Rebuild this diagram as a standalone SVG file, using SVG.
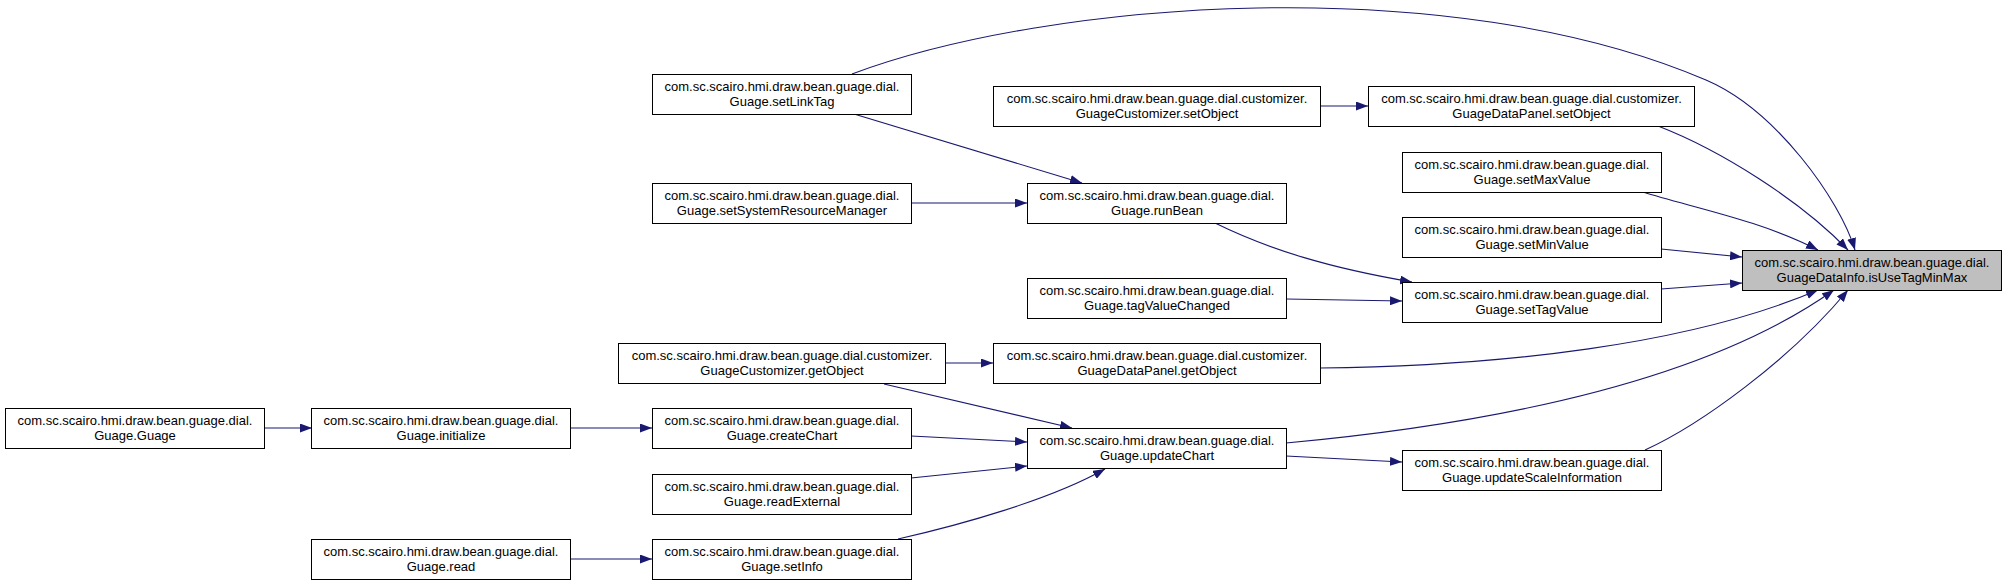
<svg xmlns="http://www.w3.org/2000/svg" width="2007" height="586" viewBox="0 0 2007 586">
<style>
.n rect{fill:#ffffff;stroke:#000000;stroke-width:1}
.n.hl rect{fill:#bfbfbf}
.n text{font-family:"Liberation Sans",Arial,sans-serif;font-size:13px;fill:#000000;text-anchor:middle}
.e path{fill:none;stroke:#191970;stroke-width:1.1;marker-end:url(#ah)}
</style>
<defs>
<marker id="ah" viewBox="0 0 12 9" refX="12" refY="4.5" markerWidth="12" markerHeight="9" markerUnits="userSpaceOnUse" orient="auto">
<path d="M0,0 L12,4.5 L0,9 z" fill="#191970" stroke="none"/>
</marker>
</defs>
<rect width="2007" height="586" fill="#ffffff"/>
<g id="edges" class="e">
<path d="M852,74 C1050,0 1450,-30 1706,80 C1776,110 1840,200 1855,250"/>
<path d="M1320,106 L1368,106"/>
<path d="M1658,126 C1720,150 1800,200 1848,250"/>
<path d="M1643,192 C1690,207 1760,220 1818,250"/>
<path d="M1661,249 L1742,257"/>
<path d="M1661,289 L1742,283"/>
<path d="M854,114 L1082,183"/>
<path d="M911,203 L1027,203"/>
<path d="M1215,223 C1270,250 1330,268 1412,282"/>
<path d="M1286,299 L1402,301"/>
<path d="M945,363 L993,363"/>
<path d="M1320,368 C1500,366 1690,345 1818,290"/>
<path d="M1286,443 C1480,425 1700,385 1834,290"/>
<path d="M1286,456 L1402,462"/>
<path d="M1645,450 C1700,425 1790,360 1848,290"/>
<path d="M264,428 L312,428"/>
<path d="M570,428 L652,428"/>
<path d="M570,559 L652,559"/>
<path d="M884,384 L1072,428"/>
<path d="M911,436 L1027,442"/>
<path d="M911,478 L1027,466"/>
<path d="M898,539 C960,525 1050,500 1105,469"/>
</g>
<g id="setLinkTag" class="n"><rect x="652.5" y="74.5" width="259" height="40"/><text x="782" y="91">com.sc.scairo.hmi.draw.bean.guage.dial.</text><text x="782" y="106">Guage.setLinkTag</text></g>
<g id="customizerSetObject" class="n"><rect x="993.5" y="86.5" width="327" height="40"/><text x="1157" y="103">com.sc.scairo.hmi.draw.bean.guage.dial.customizer.</text><text x="1157" y="118">GuageCustomizer.setObject</text></g>
<g id="dataPanelSetObject" class="n"><rect x="1368.5" y="86.5" width="326" height="40"/><text x="1531.5" y="103">com.sc.scairo.hmi.draw.bean.guage.dial.customizer.</text><text x="1531.5" y="118">GuageDataPanel.setObject</text></g>
<g id="setMaxValue" class="n"><rect x="1402.5" y="152.5" width="259" height="40"/><text x="1532" y="169">com.sc.scairo.hmi.draw.bean.guage.dial.</text><text x="1532" y="184">Guage.setMaxValue</text></g>
<g id="setSystemResourceManager" class="n"><rect x="652.5" y="183.5" width="259" height="40"/><text x="782" y="200">com.sc.scairo.hmi.draw.bean.guage.dial.</text><text x="782" y="215">Guage.setSystemResourceManager</text></g>
<g id="runBean" class="n"><rect x="1027.5" y="183.5" width="259" height="40"/><text x="1157" y="200">com.sc.scairo.hmi.draw.bean.guage.dial.</text><text x="1157" y="215">Guage.runBean</text></g>
<g id="setMinValue" class="n"><rect x="1402.5" y="217.5" width="259" height="40"/><text x="1532" y="234">com.sc.scairo.hmi.draw.bean.guage.dial.</text><text x="1532" y="249">Guage.setMinValue</text></g>
<g id="isUseTagMinMax" class="n hl"><rect x="1742.5" y="250.5" width="259" height="40"/><text x="1872" y="267">com.sc.scairo.hmi.draw.bean.guage.dial.</text><text x="1872" y="282">GuageDataInfo.isUseTagMinMax</text></g>
<g id="tagValueChanged" class="n"><rect x="1027.5" y="278.5" width="259" height="40"/><text x="1157" y="295">com.sc.scairo.hmi.draw.bean.guage.dial.</text><text x="1157" y="310">Guage.tagValueChanged</text></g>
<g id="setTagValue" class="n"><rect x="1402.5" y="282.5" width="259" height="40"/><text x="1532" y="299">com.sc.scairo.hmi.draw.bean.guage.dial.</text><text x="1532" y="314">Guage.setTagValue</text></g>
<g id="customizerGetObject" class="n"><rect x="618.5" y="343.5" width="327" height="40"/><text x="782" y="360">com.sc.scairo.hmi.draw.bean.guage.dial.customizer.</text><text x="782" y="375">GuageCustomizer.getObject</text></g>
<g id="dataPanelGetObject" class="n"><rect x="993.5" y="343.5" width="327" height="40"/><text x="1157" y="360">com.sc.scairo.hmi.draw.bean.guage.dial.customizer.</text><text x="1157" y="375">GuageDataPanel.getObject</text></g>
<g id="guageGuage" class="n"><rect x="5.5" y="408.5" width="259" height="40"/><text x="135" y="425">com.sc.scairo.hmi.draw.bean.guage.dial.</text><text x="135" y="440">Guage.Guage</text></g>
<g id="initialize" class="n"><rect x="311.5" y="408.5" width="259" height="40"/><text x="441" y="425">com.sc.scairo.hmi.draw.bean.guage.dial.</text><text x="441" y="440">Guage.initialize</text></g>
<g id="createChart" class="n"><rect x="652.5" y="408.5" width="259" height="40"/><text x="782" y="425">com.sc.scairo.hmi.draw.bean.guage.dial.</text><text x="782" y="440">Guage.createChart</text></g>
<g id="updateChart" class="n"><rect x="1027.5" y="428.5" width="259" height="40"/><text x="1157" y="445">com.sc.scairo.hmi.draw.bean.guage.dial.</text><text x="1157" y="460">Guage.updateChart</text></g>
<g id="updateScaleInformation" class="n"><rect x="1402.5" y="450.5" width="259" height="40"/><text x="1532" y="467">com.sc.scairo.hmi.draw.bean.guage.dial.</text><text x="1532" y="482">Guage.updateScaleInformation</text></g>
<g id="readExternal" class="n"><rect x="652.5" y="474.5" width="259" height="40"/><text x="782" y="491">com.sc.scairo.hmi.draw.bean.guage.dial.</text><text x="782" y="506">Guage.readExternal</text></g>
<g id="read" class="n"><rect x="311.5" y="539.5" width="259" height="40"/><text x="441" y="556">com.sc.scairo.hmi.draw.bean.guage.dial.</text><text x="441" y="571">Guage.read</text></g>
<g id="setInfo" class="n"><rect x="652.5" y="539.5" width="259" height="40"/><text x="782" y="556">com.sc.scairo.hmi.draw.bean.guage.dial.</text><text x="782" y="571">Guage.setInfo</text></g>
</svg>
